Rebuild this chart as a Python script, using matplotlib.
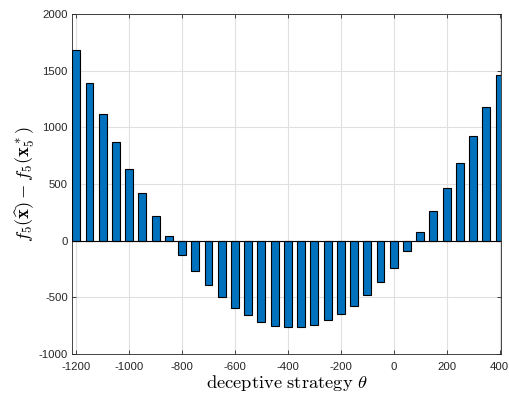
import matplotlib
matplotlib.use("Agg")
import matplotlib.pyplot as plt
from matplotlib.ticker import MultipleLocator

matplotlib.rcParams["font.family"] = ["Liberation Sans", "DejaVu Sans"]
matplotlib.rcParams["mathtext.fontset"] = "cm"
matplotlib.rcParams["axes.unicode_minus"] = False

BAR_COLOR = "#0072BD"
AX_COLOR = "#262626"
GRID_COLOR = "#E0E0E0"

# deceptive strategy theta and the objective gap
theta = list(range(-1200, 401, 50))
gap = [1683, 1395, 1121, 871, 633, 421, 221, 41,
       -124, -268, -394, -500, -591, -659, -715, -750,
       -765, -762, -744, -703, -647, -574, -480, -365,
       -238, -91, 77, 262, 465, 686, 924, 1183, 1459]

fig = plt.figure(figsize=(5.09, 3.97), dpi=100)
ax = fig.add_axes([0.1415, 0.1083, 0.8425, 0.8564])

ax.bar(theta, gap, width=30, color=BAR_COLOR, edgecolor="black", linewidth=0.8, zorder=3)
ax.axhline(0, color="black", lw=0.8, zorder=4)

ax.set_xlim(-1216, 405)
ax.set_ylim(-1000, 2000)
ax.xaxis.set_major_locator(MultipleLocator(200))
ax.yaxis.set_major_locator(MultipleLocator(500))
ax.grid(True, color=GRID_COLOR, lw=0.8, zorder=0)
ax.set_axisbelow(True)

ax.tick_params(direction="in", top=True, right=True, length=3, width=0.6,
               colors=AX_COLOR, labelsize=8.2)
ax.tick_params(axis="x", pad=5.5)
ax.tick_params(axis="y", pad=3)
for s in ax.spines.values():
    s.set_color(AX_COLOR)
    s.set_linewidth(0.6)

ax.set_xlabel(r"$\mathrm{deceptive\ strategy}\ \theta$", fontsize=13.3, labelpad=1)
ax.set_ylabel(r"$f_5(\widehat{\mathbf{x}}) - f_5(\mathbf{x}_5^*)$", fontsize=13.3, labelpad=1)

fig.savefig("out.png", dpi=100, facecolor="white")
